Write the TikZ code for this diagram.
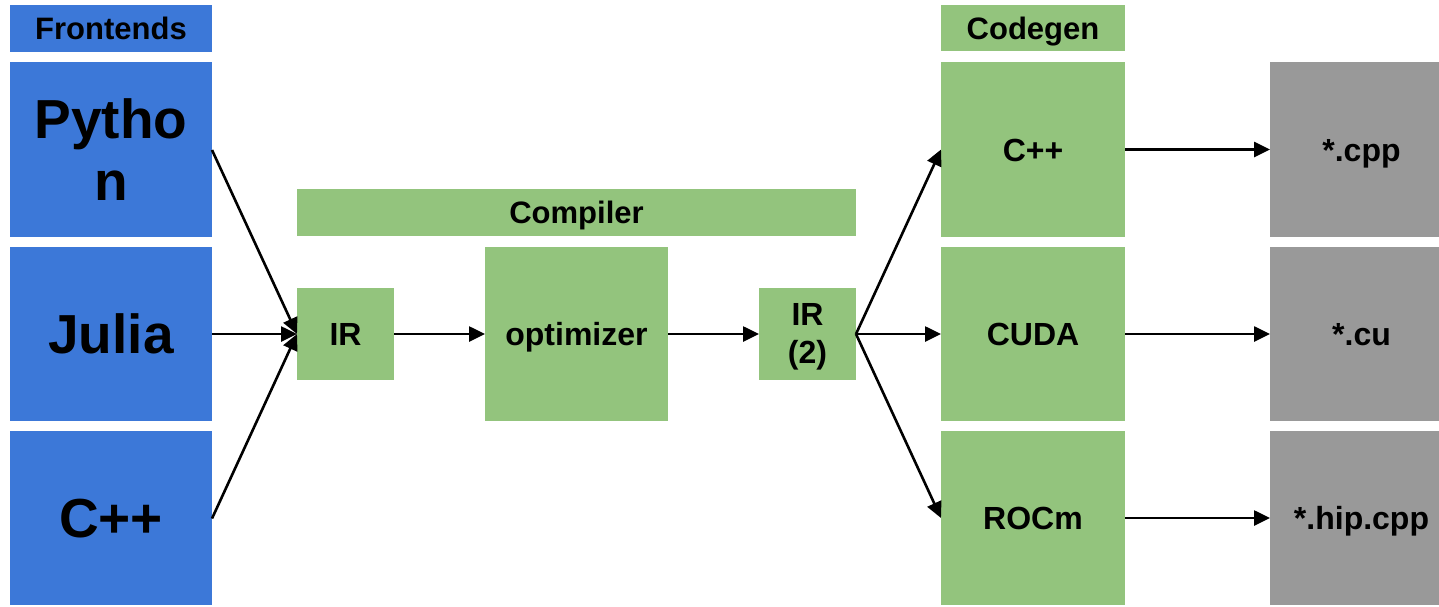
\documentclass[tikz,border=0pt]{standalone}
\usepackage{fontspec}
\setmainfont{Liberation Sans}
\usetikzlibrary{arrows.meta}
\definecolor{fblue}{HTML}{3C78D8}
\definecolor{fgreen}{HTML}{93C47D}
\definecolor{fgray}{HTML}{999999}
\begin{document}
\begin{tikzpicture}[x=1pt,y=-1pt,
  box/.style={inner sep=0pt,outer sep=0pt,anchor=north west,align=center,text=black},
  lbl/.style={font=\fontsize{31}{36}\selectfont\bfseries,text height=22pt,text depth=0pt},
  big/.style={font=\fontsize{55}{62}\selectfont\bfseries},
  bigone/.style={big,text height=39pt,text depth=0pt},
  mid/.style={font=\fontsize{32}{38}\selectfont\bfseries},
  midone/.style={mid,text height=23pt,text depth=0pt},
  arr/.style={line width=2.6pt,-{Triangle[length=16pt,width=15pt]}}]
\useasboundingbox (0,0) rectangle (1439,606);
% frontends
\node[box,lbl,fill=fblue,minimum width=202pt,minimum height=47pt] (fh) at (10,5) {Frontends};
\node[box,big,fill=fblue,minimum width=202pt,minimum height=175pt] (py) at (10,62) {Pytho\\n};
\node[box,bigone,fill=fblue,minimum width=202pt,minimum height=174pt] (jl) at (10,247) {Julia};
\node[box,bigone,fill=fblue,minimum width=202pt,minimum height=174pt] (cf) at (10,431) {C++};
% compiler
\node[box,lbl,fill=fgreen,minimum width=559pt,minimum height=47pt] (comp) at (297,189) {Compiler};
\node[box,midone,fill=fgreen,minimum width=97pt,minimum height=92pt] (ir) at (297,288) {IR};
\node[box,midone,fill=fgreen,minimum width=183pt,minimum height=174pt] (opt) at (485,247) {optimizer};
\node[box,fill=fgreen,minimum width=97pt,minimum height=92pt] (ir2) at (759,288) {};
\node[mid,align=center,inner sep=0pt] (ir2t) at ([yshift=-3pt]ir2.center) {IR\\(2)};
% codegen
\node[box,lbl,fill=fgreen,minimum width=184pt,minimum height=46pt] (cg) at (941,5) {Codegen};
\node[box,midone,fill=fgreen,minimum width=184pt,minimum height=175pt] (gc) at (941,62) {C++};
\node[box,midone,fill=fgreen,minimum width=184pt,minimum height=174pt] (gcu) at (941,247) {CUDA};
\node[box,midone,fill=fgreen,minimum width=184pt,minimum height=174pt] (grc) at (941,431) {ROCm};
% outputs
\node[box,fill=fgray,minimum width=169pt,minimum height=175pt] (o1) at (1270,62) {};
\node[box,fill=fgray,minimum width=169pt,minimum height=174pt] (o2) at (1270,247) {};
\node[box,fill=fgray,minimum width=169pt,minimum height=174pt] (o3) at (1270,431) {};
\node[midone,inner sep=0pt] (t1) at ([xshift=7pt]o1.center) {*.cpp};
\node[midone,inner sep=0pt] (t2) at ([xshift=7pt]o2.center) {*.cu};
\node[midone,inner sep=0pt] (t3) at ([xshift=7pt]o3.center) {*.hip.cpp};
% arrows
\draw[arr] ([yshift=-0.5pt]py.east) -- (ir.west);
\draw[arr] (jl.east) -- (ir.west);
\draw[arr] ([yshift=-0.5pt]cf.east) -- (ir.west);
\draw[arr] (ir.east) -- (opt.west);
\draw[arr] (opt.east) -- (ir2.west);
\draw[arr] (ir2.east) -- (gc.west);
\draw[arr] (ir2.east) -- (gcu.west);
\draw[arr] (ir2.east) -- (grc.west);
\draw[arr] (gc.east) -- (o1.west);
\draw[arr] (gcu.east) -- (o2.west);
\draw[arr] (grc.east) -- (o3.west);
\end{tikzpicture}
\end{document}
